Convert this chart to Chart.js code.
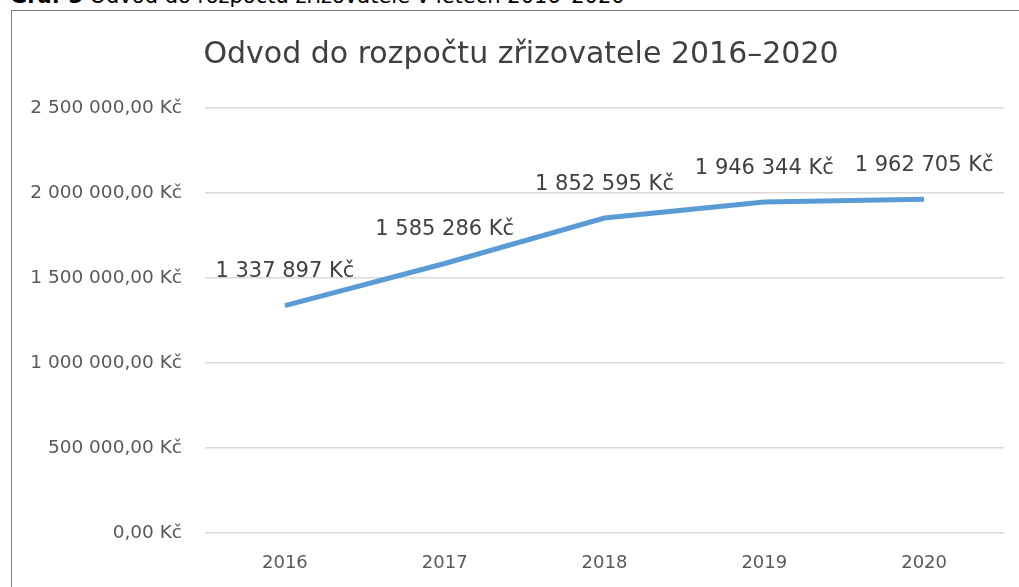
<!DOCTYPE html>
<html><head><meta charset="utf-8">
<script src="https://cdn.jsdelivr.net/npm/chart.js@4"></script>
<style>
html,body{margin:0;padding:0;width:1019px;height:587px;overflow:hidden;background:#fff;}
#cap{position:absolute;left:10px;top:-16px;font-family:"DejaVu Sans";font-size:21px;color:#000;white-space:nowrap;}
#frame{position:absolute;left:11px;top:10px;width:1100px;height:700px;border:1px solid #7f7f7f;box-sizing:border-box;}
#c{position:absolute;left:0;top:0;}
</style></head>
<body>
<div id="cap"><b>Graf 5</b> Odvod do rozpočtu zřizovatele v letech 2016–2020</div>
<div id="frame"></div>
<canvas id="c" width="1019" height="587"></canvas>
<script>
const categories = ["2016","2017","2018","2019","2020"];
const values = [1337897, 1585286, 1852595, 1946344, 1962705];
const yTicks = [0, 500000, 1000000, 1500000, 2000000, 2500000];
const titleText = "Odvod do rozpočtu zřizovatele 2016–2020";

function fmtInt(v){return String(Math.round(v)).replace(/\B(?=(\d{3})+(?!\d))/g," ");}
function fmtTick(v){return fmtInt(v)+",00 Kč";}

const labelPlugin = {
  id:'dl',
  afterLayout(chart){
    if (chart.titleBlock) { chart.titleBlock.left = 38; }
  },
  afterDatasetsDraw(chart){
    const ctx = chart.ctx;
    const meta = chart.getDatasetMeta(0);
    ctx.save();
    ctx.font = '21px "DejaVu Sans"';
    ctx.fillStyle = '#404040';
    ctx.textAlign = 'center';
    ctx.textBaseline = 'middle';
    meta.data.forEach((p,i)=>{
      ctx.fillText(fmtInt(values[i])+" Kč", p.x, p.y-34);
    });
    ctx.restore();
  }
};

new Chart(document.getElementById('c'), {
  type:'line',
  data:{labels:categories, datasets:[{data:values, borderColor:'#5B9BD5', borderWidth:5, pointRadius:0, tension:0, fill:false}]},
  options:{
    responsive:false, animation:false,
    layout:{padding:{left:0,right:15,top:0,bottom:14}},
    plugins:{
      legend:{display:false}, tooltip:{enabled:false},
      title:{display:true, text:titleText, color:'#404040', font:{family:'DejaVu Sans', size:30, weight:'normal'}, padding:{top:37,bottom:35}}
    },
    scales:{
      x:{offset:true, grid:{display:false, drawTicks:false}, border:{display:false},
         afterFit(s){s.height=40;},
         ticks:{color:'#595959', font:{family:'DejaVu Sans', size:18}, padding:20}},
      y:{min:0, max:2500000, grid:{color:'#d9d9d9', lineWidth:1.5, drawTicks:false}, border:{display:false},
         afterBuildTicks(s){s.ticks = yTicks.map(v=>({value:v}));},
         afterFit(s){s.width=205;},
         ticks:{color:'#595959', font:{family:'DejaVu Sans', size:18.5}, padding:23, callback:(v)=>fmtTick(v)}}
    }
  },
  plugins:[labelPlugin]
});
</script>
</body></html>
